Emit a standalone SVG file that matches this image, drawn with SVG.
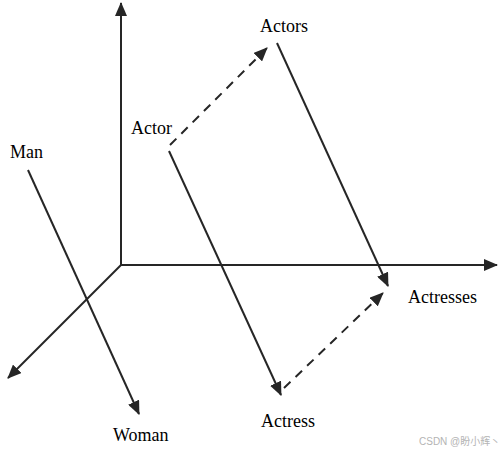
<svg xmlns="http://www.w3.org/2000/svg" width="499" height="454" viewBox="0 0 499 454">
<style>
.ln{stroke:#262626;stroke-width:2;fill:none}
.ds{stroke-dasharray:9,7}
text{font-family:"Liberation Serif","Times New Roman",serif;font-size:18px;fill:#000}
.wm{font-family:"Liberation Sans","Noto Sans CJK SC",sans-serif;font-size:10px;fill:#b4b4b4}
</style>
<defs>
<marker id="ah" markerUnits="userSpaceOnUse" markerWidth="14" markerHeight="12" viewBox="0 0 14 12" refX="13" refY="6" orient="auto">
<path d="M0,0 L14,6 L0,12 Z" fill="#262626"/>
</marker>
</defs>
<g id="connectors">
<line class="ln" x1="121" y1="265" x2="121" y2="3" marker-end="url(#ah)"/>
<line class="ln" x1="121" y1="265" x2="497" y2="265" marker-end="url(#ah)"/>
<line class="ln" x1="121" y1="265" x2="8" y2="378" marker-end="url(#ah)"/>
<line class="ln" x1="28" y1="170" x2="139" y2="414" marker-end="url(#ah)"/>
<line class="ln" x1="169" y1="151" x2="281" y2="395" marker-end="url(#ah)"/>
<line class="ln" x1="277" y1="43" x2="388" y2="286" marker-end="url(#ah)"/>
<line class="ln ds" x1="170" y1="145" x2="267" y2="48" marker-end="url(#ah)"/>
<line class="ln ds" x1="284" y1="388" x2="383" y2="293" marker-end="url(#ah)"/>
</g>
<g id="actors"><text x="260" y="32">Actors</text></g>
<g id="actor"><text x="131" y="134">Actor</text></g>
<g id="man"><text x="10" y="158">Man</text></g>
<g id="actresses"><text x="408" y="303">Actresses</text></g>
<g id="actress"><text x="261" y="427">Actress</text></g>
<g id="woman"><text x="113" y="441">Woman</text></g>
<text class="wm" x="419" y="445">CSDN @盼小辉丶</text>
</svg>
